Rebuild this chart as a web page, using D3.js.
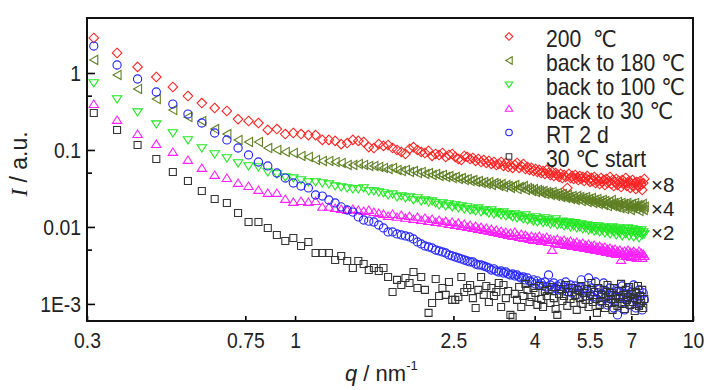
<!DOCTYPE html>
<html><head><meta charset="utf-8">
<script src="https://cdn.jsdelivr.net/npm/d3@7"></script>
<style>body{margin:0;background:#fff}</style>
</head><body><svg id="c" width="728" height="390"></svg>
<script>
// ---------- data ----------
const qValues = [
0.312,0.357,0.402,0.448,0.493,0.538,0.583,0.628,0.674,0.719,
0.764,0.809,0.854,0.900,0.945,0.990,1.035,1.080,1.126,1.171,
1.216,1.261,1.306,1.352,1.397,1.442,1.487,1.532,1.578,1.623,
1.668,1.713,1.758,1.804,1.849,1.894,1.939,1.984,2.030,2.075,
2.120,2.165,2.210,2.256,2.301,2.346,2.391,2.436,2.482,2.527,
2.572,2.617,2.662,2.708,2.753,2.798,2.843,2.888,2.934,2.979,
3.024,3.069,3.114,3.160,3.205,3.250,3.295,3.340,3.386,3.431,
3.476,3.521,3.566,3.612,3.657,3.702,3.747,3.792,3.838,3.883,
3.928,3.973,4.018,4.064,4.109,4.154,4.199,4.244,4.290,4.335,
4.380,4.425,4.470,4.516,4.561,4.606,4.651,4.696,4.742,4.787,
4.832,4.877,4.922,4.968,5.013,5.058,5.103,5.148,5.194,5.239,
5.284,5.329,5.374,5.420,5.465,5.510,5.555,5.600,5.646,5.691,
5.736,5.781,5.826,5.872,5.917,5.962,6.007,6.052,6.098,6.143,
6.188,6.233,6.278,6.324,6.369,6.414,6.459,6.504,6.550,6.595,
6.640,6.685,6.730,6.776,6.821,6.866,6.911,6.956,7.002,7.047,
7.092,7.137,7.182,7.228,7.273,7.318,7.363,7.408,7.454,7.499,
7.544];

const i200C = [
2.85,1.82,1.20,0.887,0.658,0.502,0.407,0.351,0.321,0.252,
0.238,0.224,0.182,0.187,0.161,0.166,0.161,0.156,0.156,0.135,
0.135,0.131,0.119,0.123,0.135,0.131,0.127,0.109,0.106,0.119,
0.113,0.116,0.106,0.100,0.0942,0.0887,0.103,0.109,0.100,0.0942,
0.0914,0.0971,0.0836,0.0887,0.0861,0.0914,0.0811,0.0861,0.0887,0.0811,
0.0764,0.0741,0.0836,0.0811,0.0764,0.0787,0.0720,0.0764,0.0698,0.0741,
0.0678,0.0720,0.0658,0.0698,0.0638,0.0658,0.0698,0.0620,0.0678,0.0601,
0.0638,0.0584,0.0638,0.0678,0.0584,0.0620,0.0658,0.0566,0.0601,0.0550,
0.0584,0.0533,0.0566,0.0518,0.0550,0.0502,0.0533,0.0488,0.0550,0.0502,
0.0473,0.0518,0.0459,0.0502,0.0473,0.0446,0.0488,0.0432,0.0473,0.0446,
0.0321,0.0488,0.0432,0.0459,0.0420,0.0473,0.0432,0.0407,0.0459,0.0420,
0.0446,0.0395,0.0432,0.0459,0.0407,0.0384,0.0432,0.0395,0.0446,0.0372,
0.0420,0.0395,0.0361,0.0432,0.0384,0.0407,0.0351,0.0420,0.0372,0.0395,
0.0446,0.0361,0.0407,0.0340,0.0384,0.0420,0.0351,0.0395,0.0372,0.0330,
0.0407,0.0361,0.0384,0.0432,0.0340,0.0372,0.0395,0.0321,0.0361,0.0407,
0.0340,0.0372,0.0311,0.0384,0.0351,0.0330,0.0395,0.0361,0.0302,0.0372,
0.0420];

const iBack180 = [
1.48,0.942,0.620,0.459,0.330,0.268,0.238,0.187,0.161,0.135,
0.127,0.127,0.106,0.100,0.0942,0.0914,0.0836,0.0811,0.0741,0.0720,
0.0720,0.0698,0.0678,0.0638,0.0638,0.0658,0.0638,0.0620,0.0620,0.0601,
0.0584,0.0566,0.0584,0.0550,0.0533,0.0550,0.0518,0.0533,0.0502,0.0518,
0.0488,0.0502,0.0473,0.0488,0.0459,0.0473,0.0446,0.0459,0.0432,0.0446,
0.0420,0.0432,0.0407,0.0420,0.0395,0.0407,0.0384,0.0395,0.0372,0.0384,
0.0361,0.0384,0.0351,0.0372,0.0361,0.0340,0.0361,0.0330,0.0351,0.0340,
0.0321,0.0340,0.0351,0.0311,0.0330,0.0321,0.0340,0.0302,0.0321,0.0311,
0.0293,0.0311,0.0285,0.0302,0.0293,0.0276,0.0293,0.0268,0.0285,0.0276,
0.0260,0.0285,0.0268,0.0252,0.0276,0.0260,0.0245,0.0268,0.0252,0.0238,
0.0260,0.0245,0.0231,0.0252,0.0238,0.0224,0.0252,0.0231,0.0245,0.0217,
0.0238,0.0224,0.0245,0.0211,0.0231,0.0217,0.0238,0.0205,0.0224,0.0211,
0.0231,0.0199,0.0217,0.0205,0.0224,0.0193,0.0217,0.0205,0.0187,0.0211,
0.0199,0.0224,0.0187,0.0205,0.0193,0.0182,0.0211,0.0199,0.0176,0.0205,
0.0187,0.0199,0.0171,0.0193,0.0205,0.0182,0.0193,0.0166,0.0199,0.0176,
0.0187,0.0205,0.0171,0.0182,0.0193,0.0161,0.0187,0.0176,0.0199,0.0166,
0.0182];

const iBack100 = [
0.741,0.459,0.311,0.217,0.166,0.135,0.106,0.0887,0.0787,0.0678,
0.0620,0.0601,0.0518,0.0488,0.0446,0.0432,0.0407,0.0384,0.0384,0.0372,
0.0361,0.0340,0.0330,0.0321,0.0311,0.0311,0.0321,0.0293,0.0293,0.0285,
0.0276,0.0260,0.0268,0.0245,0.0252,0.0238,0.0245,0.0224,0.0238,0.0217,
0.0224,0.0211,0.0217,0.0205,0.0193,0.0205,0.0187,0.0199,0.0182,0.0193,
0.0176,0.0187,0.0171,0.0182,0.0166,0.0171,0.0161,0.0176,0.0156,0.0166,
0.0161,0.0152,0.0166,0.0147,0.0156,0.0152,0.0143,0.0156,0.0139,0.0147,
0.0143,0.0135,0.0147,0.0131,0.0139,0.0135,0.0127,0.0143,0.0123,0.0131,
0.0127,0.0119,0.0135,0.0116,0.0127,0.0123,0.0113,0.0131,0.0116,0.0123,
0.0109,0.0119,0.0113,0.0127,0.0106,0.0116,0.0109,0.0119,0.0103,0.0113,
0.0106,0.0116,0.0100,0.0109,0.0103,0.0113,0.00971,0.0106,0.0100,0.0109,
0.00942,0.0103,0.00971,0.0106,0.00914,0.0100,0.00942,0.0103,0.00887,0.00971,
0.00914,0.0103,0.00861,0.00971,0.00914,0.0100,0.00836,0.00942,0.00887,0.00971,
0.00811,0.00914,0.0100,0.00861,0.00942,0.00787,0.00887,0.00971,0.00836,0.00914,
0.00764,0.00887,0.00942,0.00811,0.00861,0.00971,0.00764,0.00887,0.00836,0.00942,
0.00741,0.00861,0.00914,0.00787,0.00887,0.00720,0.00836,0.00914,0.00787,0.00861,
0.00811];

const iBack30 = [
0.395,0.245,0.161,0.119,0.0942,0.0741,0.0584,0.0473,0.0432,0.0372,
0.0340,0.0302,0.0276,0.0276,0.0231,0.0211,0.0217,0.0211,0.0217,0.0182,
0.0182,0.0176,0.0171,0.0166,0.0171,0.0166,0.0161,0.0166,0.0156,0.0152,
0.0147,0.0139,0.0147,0.0135,0.0143,0.0131,0.0139,0.0127,0.0135,0.0123,
0.0131,0.0119,0.0127,0.0116,0.0123,0.0113,0.0119,0.0109,0.0116,0.0106,
0.0113,0.0103,0.0109,0.0100,0.0106,0.00971,0.0103,0.00942,0.0100,0.00914,
0.00971,0.00887,0.00942,0.00861,0.00914,0.00836,0.00887,0.00811,0.00861,0.00787,
0.00836,0.00764,0.00861,0.00787,0.00741,0.00811,0.00720,0.00787,0.00741,0.00698,
0.00764,0.00678,0.00741,0.00698,0.00764,0.00658,0.00720,0.00678,0.00741,0.00638,
0.00698,0.00502,0.00678,0.00620,0.00698,0.00601,0.00658,0.00620,0.00678,0.00584,
0.00638,0.00601,0.00658,0.00566,0.00620,0.00584,0.00638,0.00550,0.00601,0.00566,
0.00620,0.00533,0.00584,0.00550,0.00601,0.00518,0.00566,0.00533,0.00584,0.00502,
0.00550,0.00518,0.00566,0.00488,0.00533,0.00502,0.00550,0.00473,0.00518,0.00488,
0.00533,0.00459,0.00502,0.00473,0.00518,0.00446,0.00488,0.00459,0.00502,0.00372,
0.00473,0.00446,0.00488,0.00420,0.00459,0.00502,0.00433,0.00473,0.00407,0.00459,
0.00488,0.00420,0.00459,0.00395,0.00446,0.00488,0.00420,0.00459,0.00395,0.00446,
0.00420];

const iRT2d = [
2.24,1.27,0.836,0.566,0.395,0.293,0.224,0.166,0.135,0.106,
0.0861,0.0698,0.0620,0.0502,0.0432,0.0372,0.0340,0.0321,0.0260,0.0252,
0.0224,0.0205,0.0182,0.0166,0.0156,0.0135,0.0123,0.0119,0.0116,0.0106,
0.00971,0.00861,0.00861,0.00811,0.00787,0.00764,0.00741,0.00698,0.00638,0.00601,
0.00566,0.00550,0.00533,0.00502,0.00488,0.00473,0.00459,0.00433,0.00420,0.00407,
0.00395,0.00384,0.00372,0.00361,0.00351,0.00351,0.00330,0.00321,0.00321,0.00311,
0.00302,0.00293,0.00276,0.00285,0.00268,0.00260,0.00268,0.00252,0.00260,0.00245,
0.00238,0.00245,0.00231,0.00238,0.00224,0.00217,0.00224,0.00205,0.00217,0.00199,
0.00193,0.00205,0.00182,0.00199,0.00176,0.00187,0.00171,0.00193,0.00166,0.00238,
0.00176,0.00156,0.00187,0.00161,0.00171,0.00152,0.00182,0.00147,0.00166,0.00193,
0.00143,0.00161,0.00176,0.00139,0.00156,0.00171,0.00131,0.00152,0.00166,0.00205,
0.00139,0.00156,0.00127,0.00147,0.00217,0.00135,0.00161,0.00123,0.00143,0.00193,
0.00116,0.00139,0.00156,0.00106,0.00135,0.00187,0.00119,0.00147,0.000971,0.00131,
0.00161,0.00113,0.00139,0.000887,0.00127,0.00152,0.000720,0.00123,0.00143,0.00103,
0.00171,0.00119,0.000836,0.00135,0.00113,0.00161,0.000971,0.00127,0.00143,0.00106,
0.00176,0.00119,0.000887,0.00135,0.00113,0.00152,0.00100,0.00127,0.000836,0.00139,
0.00113];

const i30Start = [
0.302,0.182,0.116,0.0764,0.0518,0.0395,0.0293,0.0231,0.0205,0.0152,
0.0116,0.0116,0.00971,0.00787,0.00658,0.00720,0.00566,0.00638,0.00459,0.00459,
0.00459,0.00372,0.00420,0.00361,0.00293,0.00361,0.00330,0.00276,0.00293,0.00268,
0.00293,0.00224,0.00143,0.00205,0.00176,0.00217,0.00187,0.00260,0.00161,0.00224,
0.00152,0.000764,0.00103,0.00211,0.00127,0.00161,0.00131,0.00193,0.00113,0.00113,
0.00123,0.00224,0.00143,0.00161,0.00176,0.00119,0.000887,0.00152,0.00224,0.00131,
0.00171,0.00106,0.00161,0.00127,0.00143,0.00187,0.000914,0.00176,0.00119,0.00147,
0.000720,0.000678,0.00135,0.00113,0.00166,0.000914,0.00127,0.00182,0.00152,0.00106,
0.00123,0.00161,0.00139,0.000971,0.00171,0.00116,0.000914,0.00147,0.00127,0.00152,
0.00103,0.00166,0.00119,0.000861,0.000720,0.00135,0.00156,0.00109,0.00127,0.00176,
0.000942,0.00143,0.00116,0.00161,0.00103,0.00131,0.000836,0.00152,0.00119,0.00171,
0.00100,0.00139,0.00113,0.00156,0.000914,0.00127,0.00187,0.00106,0.00143,0.00116,
0.000764,0.00161,0.000971,0.00131,0.00109,0.00152,0.000887,0.00123,0.00176,0.00103,
0.00139,0.00116,0.000836,0.00161,0.00106,0.00127,0.000942,0.00147,0.00116,0.00182,
0.00100,0.00131,0.000861,0.00152,0.00113,0.00123,0.00166,0.000971,0.00135,0.00106,
0.00119,0.000811,0.00143,0.00113,0.00171,0.000942,0.00127,0.00103,0.00152,0.000887,
0.00116];

const seriesNames = ["200  \u2103", "back to 180 \u2103", "back to 100 \u2103", "back to 30 \u2103", "RT 2 d", "30 \u2103 start"];
const seriesValues = [i200C, iBack180, iBack100, iBack30, iRT2d, i30Start];
const xTickValues = [0.3, 0.75, 1, 2.5, 4, 5.5, 7, 10];
const xTickLabels = ["0.3", "0.75", "1", "2.5", "4", "5.5", "7", "10"];
const yTickValues = [1, 0.1, 0.01, 0.001];
const yTickLabels = ["1", "0.1", "0.01", "1E-3"];
const yMinorTicks = [0.5, 0.05, 0.005];
const factorLabels = ["\u00d78", "\u00d74", "\u00d72"];

// ---------- styling ----------
const colors = ["#ff2424", "#5e7f22", "#22e622", "#ff22ff", "#2222ff", "#333333"];
const shapeNames = ["diamond", "left", "down", "up", "circle", "square"];
const FONT = "'Liberation Sans', Arial, 'DejaVu Sans', sans-serif";
const SX = 0.86;

const shapes = {
  diamond: s => `M0,${-4.8*s}L${4.8*s},0L0,${4.8*s}L${-4.8*s},0Z`,
  left: s => `M${-4*s},0L${4*s},${-4.6*s}L${4*s},${4.6*s}Z`,
  down: s => `M${-4.7*s},${-3.2*s}L${4.7*s},${-3.2*s}L0,${4*s}Z`,
  up: s => `M${-4.7*s},${3.4*s}L${4.7*s},${3.4*s}L0,${-4*s}Z`,
  circle: s => { const r = 4.1*s; return `M${r},0A${r},${r} 0 1,1 ${-r},0A${r},${r} 0 1,1 ${r},0Z`; },
  square: s => { const r = 3.5*s; return `M${-r},${-r}h${2*r}v${2*r}h${-2*r}Z`; }
};

const svg = d3.select("#c");
svg.append("rect").attr("width", 728).attr("height", 390).attr("fill", "#fff");

const m = {l: 87, t: 18, r: 693, b: 321};
const x = d3.scaleLog().domain([0.3, 10]).range([m.l, m.r]);
const y = d3.scaleLog().domain([6.0e-4, 5.18]).range([m.b, m.t]);

svg.append("clipPath").attr("id", "clip").append("rect")
  .attr("x", m.l).attr("y", m.t).attr("width", m.r - m.l).attr("height", m.b - m.t);

// data marks
const plot = svg.append("g").attr("clip-path", "url(#clip)");
seriesValues.forEach((vals, si) => {
  const pts = vals.map((v, i) => ({q: qValues[i], v}));
  plot.append("g").selectAll("path").data(pts).join("path")
    .attr("d", shapes[shapeNames[si]](1))
    .attr("transform", d => `translate(${x(d.q)},${y(d.v)})`)
    .attr("fill", "none")
    .attr("stroke", colors[si])
    .attr("stroke-width", 1.1);
});

// axes
const gx = svg.append("g").attr("transform", `translate(0,${m.b})`)
  .call(d3.axisBottom(x).tickValues(xTickValues)
    .tickFormat((d, i) => xTickLabels[i]).tickSizeInner(-5).tickSizeOuter(0).tickPadding(11));
gx.select(".domain").remove();
gx.selectAll(".tick line").attr("stroke", "#000").attr("stroke-width", 1.6);
gx.selectAll(".tick text").attr("font-family", FONT).attr("font-size", 22.5).attr("fill", "#222")
  .attr("transform", `scale(${SX},1)`);

const gy = svg.append("g").attr("transform", `translate(${m.l},0)`)
  .call(d3.axisLeft(y).tickValues(yTickValues)
    .tickFormat((d, i) => yTickLabels[i]).tickSizeInner(-8).tickSizeOuter(0).tickPadding(6));
gy.select(".domain").remove();
gy.selectAll(".tick line").attr("stroke", "#000").attr("stroke-width", 1.6);
gy.selectAll(".tick text").attr("font-family", FONT).attr("font-size", 22.5).attr("fill", "#222")
  .attr("x", -6 / SX).attr("transform", `scale(${SX},1)`);

svg.append("g").selectAll("line").data(yMinorTicks).join("line")
  .attr("x1", m.l).attr("x2", m.l + 5)
  .attr("y1", d => y(d)).attr("y2", d => y(d))
  .attr("stroke", "#000").attr("stroke-width", 1.6);

// frame
svg.append("rect").attr("x", m.l).attr("y", m.t).attr("width", m.r - m.l).attr("height", m.b - m.t)
  .attr("fill", "none").attr("stroke", "#111").attr("stroke-width", 2);

// axis titles
const yl = svg.append("text").attr("transform", "translate(27,164) rotate(-90)")
  .attr("text-anchor", "middle").attr("font-family", FONT).attr("font-size", 23).attr("fill", "#222");
yl.append("tspan").attr("font-family", "'Liberation Serif', 'Times New Roman', serif").attr("font-style", "italic").text("I");
yl.append("tspan").text(" / a.u.");

const xl = svg.append("text").attr("x", 345).attr("y", 381)
  .attr("font-family", FONT).attr("font-size", 22).attr("fill", "#222");
xl.append("tspan").attr("font-style", "italic").text("q");
xl.append("tspan").text(" / nm");
xl.append("tspan").attr("font-size", 13).attr("dy", -11).text("-1");

// legend
const leg = svg.append("g");
seriesNames.forEach((name, i) => {
  const yy = 36.5 + i * 24;
  leg.append("path").attr("d", shapes[shapeNames[i]](0.8))
    .attr("transform", `translate(509,${yy})`)
    .attr("fill", "none").attr("stroke", colors[i]).attr("stroke-width", 1.1);
  leg.append("text").attr("transform", `translate(546,${yy + 10}) scale(0.92,1)`)
    .attr("font-family", FONT).attr("font-size", 23).attr("fill", "#222")
    .style("white-space", "pre").text(name);
});

// scale factor annotations
const factorY = [192, 216, 240];
factorLabels.forEach((t, i) => {
  svg.append("text").attr("transform", `translate(651,${factorY[i]}) scale(0.98,1)`)
    .attr("font-family", FONT).attr("font-size", 21).attr("fill", "#222").text(t);
});
</script>
</body></html>
